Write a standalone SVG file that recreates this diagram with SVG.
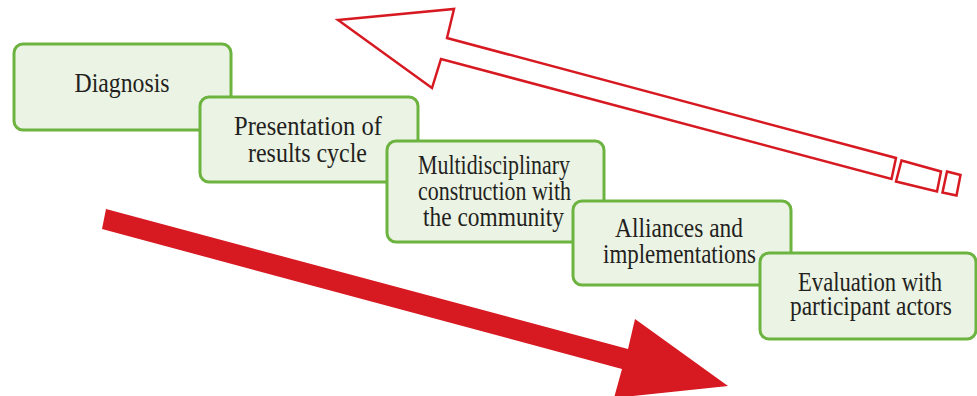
<svg xmlns="http://www.w3.org/2000/svg" width="977" height="396" viewBox="0 0 977 396">
<style>
.box{fill:#EBF3E4;stroke:#6CB33F;stroke-width:3}
.t{font-family:"Liberation Serif","Times New Roman",serif;font-size:26.5px;fill:#231F20;text-anchor:middle}
.red{fill:#D71921}
.outline{fill:#FFFFFF;stroke:#D71921;stroke-width:2.5;stroke-linejoin:miter}
</style>
<g id="connectors">
<polygon class="red" points="106,209 628,349 635,319 728,386 614,398 622,369 102,229"/>
<g id="return-arrow">
<polygon class="outline" points="338,20 454,9 447,38 896,158 891.5,179 441,59 432,88"/>
<polygon class="outline" points="901.5,160.5 941,171.5 937,191.5 896,181.5"/>
<polygon class="outline" points="947,171.5 960.5,175 956.5,195.5 942.5,192.5"/>
</g>
</g>
<g id="node-diagnosis">
<rect class="box" x="14" y="44" width="217" height="86" rx="9"/>
<text class="t" x="122" y="92" textLength="95" lengthAdjust="spacingAndGlyphs">Diagnosis</text>
</g>
<g id="node-presentation">
<rect class="box" x="200" y="97" width="218" height="85" rx="9"/>
<text class="t" x="308" y="135" textLength="148" lengthAdjust="spacingAndGlyphs">Presentation of</text>
<text class="t" x="307.5" y="162" textLength="119" lengthAdjust="spacingAndGlyphs">results cycle</text>
</g>
<g id="node-multidisciplinary">
<rect class="box" x="387" y="141" width="217" height="101" rx="9"/>
<text class="t" x="494" y="174" textLength="152" lengthAdjust="spacingAndGlyphs">Multidisciplinary</text>
<text class="t" x="494.5" y="200" textLength="153" lengthAdjust="spacingAndGlyphs">construction with</text>
<text class="t" x="493.5" y="226" textLength="141" lengthAdjust="spacingAndGlyphs">the community</text>
</g>
<g id="node-alliances">
<rect class="box" x="573" y="201" width="218" height="84" rx="9"/>
<text class="t" x="679" y="237" textLength="128" lengthAdjust="spacingAndGlyphs">Alliances and</text>
<text class="t" x="679.5" y="263" textLength="153" lengthAdjust="spacingAndGlyphs">implementations</text>
</g>
<g id="node-evaluation">
<rect class="box" x="760" y="253" width="216" height="86" rx="9"/>
<text class="t" x="870" y="291" textLength="144" lengthAdjust="spacingAndGlyphs">Evaluation with</text>
<text class="t" x="871" y="315" textLength="162" lengthAdjust="spacingAndGlyphs">participant actors</text>
</g>
</svg>
